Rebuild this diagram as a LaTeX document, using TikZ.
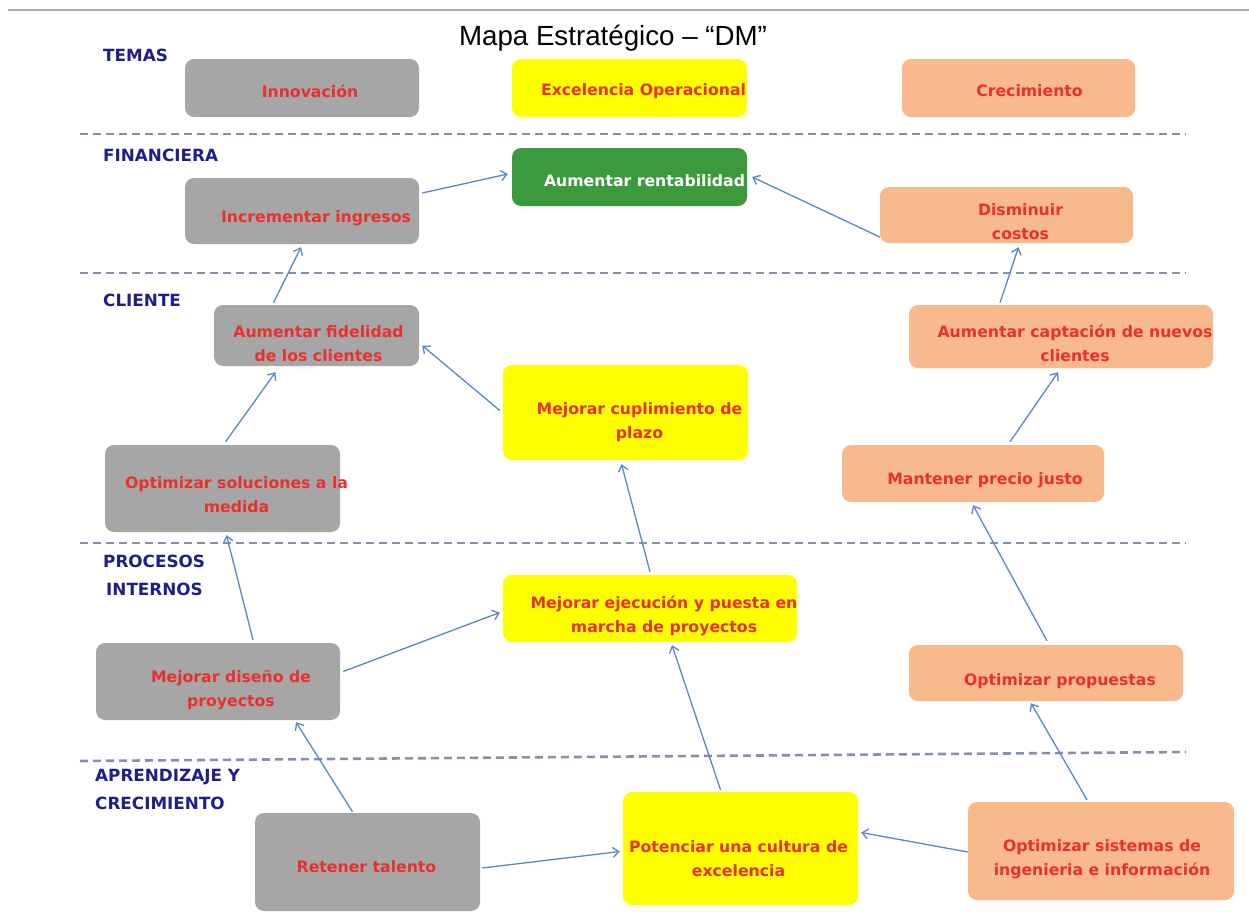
\documentclass[tikz,border=0pt]{standalone}
\usepackage{fontspec}
\setmainfont{DejaVu Sans}
\newfontfamily\titlefont{Liberation Sans}
\usetikzlibrary{arrows.meta,calc}
\definecolor{boxgray}{HTML}{A6A6A6}
\definecolor{boxyellow}{HTML}{FFFF00}
\definecolor{boxsalmon}{HTML}{F8BA8C}
\definecolor{boxgreen}{HTML}{3C9A3C}
\definecolor{txtred}{HTML}{E8312E}
\definecolor{navy}{HTML}{1F1F8A}
\definecolor{arrowblue}{HTML}{5B87C5}
\definecolor{sepgray}{HTML}{8392AA}
\definecolor{topline}{HTML}{A4ACBC}
\begin{document}
\begin{tikzpicture}[x=1pt,y=-1pt,
  box/.style={rounded corners=9pt, inner sep=0pt},
  graybox/.style={box, fill=boxgray},
  yellowbox/.style={box, fill=boxyellow},
  salmonbox/.style={box, fill=boxsalmon},
  greenbox/.style={box, fill=boxgreen},
  tl/.style={font=\fontsize{15.7}{24}\selectfont\bfseries, text=txtred, align=center, inner sep=0pt},
  persp/.style={font=\fontsize{16.8}{28}\selectfont\bfseries, text=navy, align=left, anchor=north west, inner sep=0pt},
  link/.style={draw=arrowblue, line width=1.3pt, -{Straight Barb[length=6pt,width=10pt,line width=1.3pt]}},
  sep/.style={draw=sepgray, line width=2.6pt, dash pattern=on 8pt off 5pt}
]
\useasboundingbox (0,0) rectangle (1249,911);
\fill[white] (0,0) rectangle (1249,911);

% top line and title
\coordinate (tlA) at (8,10);
\coordinate (tlB) at (1249,10);
\draw[topline, line width=2pt] (tlA) -- (tlB);
\node[font=\titlefont\fontsize{27.7}{30}\selectfont, inner sep=0pt] (title) at (613,38) {Mapa Estratégico – “DM”};

% separators
\coordinate (s1a) at (80,134); \coordinate (s1b) at (1186,134);
\coordinate (s2a) at (80,273); \coordinate (s2b) at (1186,273);
\coordinate (s3a) at (80,543); \coordinate (s3b) at (1186,543);
\coordinate (s4a) at (80,761); \coordinate (s4b) at (1186,752);
\draw[sep] (s1a) -- (s1b);
\draw[sep] (s2a) -- (s2b);
\draw[sep] (s3a) -- (s3b);
\draw[sep] (s4a) -- (s4b);

% perspective labels
\node[persp] (pT) at (103,49) {TEMAS};
\node[persp] (pF) at (103,149) {FINANCIERA};
\node[persp] (pC) at (103,294) {CLIENTE};
\node[persp] (pP) at (103,555) {PROCESOS\\\hspace*{3pt}INTERNOS};
\node[persp] (pA) at (95,769) {APRENDIZAJE Y\\CRECIMIENTO};

% themes
\node[graybox, minimum width=234pt, minimum height=58pt, label={[tl, xshift=8pt, yshift=-3pt]center:Innovación}] (inno) at (302,88) {};
\node[yellowbox, minimum width=235pt, minimum height=58pt, label={[tl, xshift=14pt, yshift=-3pt]center:Excelencia Operacional}] (exc) at (629.5,88) {};
\node[salmonbox, minimum width=233pt, minimum height=58pt, label={[tl, xshift=11pt, yshift=-3pt]center:Crecimiento}] (crec) at (1018.5,88) {};

% financiera
\node[greenbox, minimum width=235pt, minimum height=58pt, label={[tl, text=white, xshift=15pt, yshift=-4pt]center:Aumentar rentabilidad}] (rent) at (629.5,177) {};
\node[graybox, minimum width=234pt, minimum height=66pt, label={[tl, xshift=14pt, yshift=-7pt]center:Incrementar ingresos}] (ingr) at (302,211) {};
\node[salmonbox, minimum width=253pt, minimum height=56pt, label={[tl, xshift=14pt, yshift=-7pt]center:Disminuir\\costos}] (dism) at (1006.5,215) {};

% cliente
\node[graybox, minimum width=205pt, minimum height=61pt, label={[tl, xshift=2pt, yshift=-8pt]center:Aumentar fidelidad\\de los clientes}] (fid) at (316.5,335.5) {};
\node[salmonbox, minimum width=304pt, minimum height=63pt, label={[tl, xshift=14pt, yshift=-7pt]center:Aumentar captación de nuevos\\clientes}] (capt) at (1061,336.5) {};
\node[yellowbox, minimum width=245pt, minimum height=95pt, label={[tl, xshift=14pt, yshift=-10pt]center:Mejorar cuplimiento de\\plazo}] (plazo) at (625.5,412.5) {};
\node[graybox, minimum width=235pt, minimum height=87pt, label={[tl, xshift=14pt, yshift=-6pt]center:Optimizar soluciones a la\\medida}] (sol) at (222.5,488.5) {};
\node[salmonbox, minimum width=262pt, minimum height=57pt, label={[tl, xshift=12pt, yshift=-7pt]center:Mantener precio justo}] (precio) at (973,473.5) {};

% procesos internos
\node[yellowbox, minimum width=294pt, minimum height=67pt, label={[tl, xshift=14pt, yshift=-7pt]center:Mejorar ejecución y puesta en\\marcha de proyectos}] (ejec) at (650,608.5) {};
\node[graybox, minimum width=244pt, minimum height=77pt, label={[tl, xshift=13pt, yshift=-9pt]center:Mejorar diseño de\\proyectos}] (dis) at (218,681.5) {};
\node[salmonbox, minimum width=274pt, minimum height=56pt, label={[tl, xshift=14pt, yshift=-8pt]center:Optimizar propuestas}] (prop) at (1046,673) {};

% aprendizaje
\node[graybox, minimum width=225pt, minimum height=98pt, label={[tl, xshift=-1pt, yshift=-5pt]center:Retener talento}] (ret) at (367.5,862) {};
\node[yellowbox, minimum width=235pt, minimum height=113pt, label={[tl, xshift=-2pt, yshift=-10pt]center:Potenciar una cultura de\\excelencia}] (pot) at (740.5,848.5) {};
\node[salmonbox, minimum width=266pt, minimum height=98pt, label={[tl, xshift=1pt, yshift=-8pt]center:Optimizar sistemas de\\ingenieria e información}] (sis) at (1101,851) {};

% connectors
\draw[link] ([xshift=3pt,yshift=18pt]ingr.east) -- ([xshift=-4pt,yshift=3pt]rent.west);
\draw[link] ([yshift=-22pt]dism.west) -- ([xshift=5pt]rent.east);
\draw[link] ([xshift=-43pt,yshift=2pt]fid.north) -- ([xshift=-1pt,yshift=-3pt]ingr.south);
\draw[link] ([xshift=-3pt,yshift=2pt]plazo.west) -- ([xshift=3pt,yshift=-10pt]fid.east);
\draw[link] ([xshift=3pt,yshift=3pt]sol.north) -- ([xshift=-41pt,yshift=-6pt]fid.south);
\draw[link] ([xshift=-61pt,yshift=2pt]capt.north) -- ([xshift=12pt,yshift=-4pt]dism.south);
\draw[link] ([xshift=37pt,yshift=3pt]precio.north) -- ([xshift=-3pt,yshift=-4pt]capt.south);
\draw[link] ([yshift=3pt]ejec.north) -- ([xshift=-4pt,yshift=-4pt]plazo.south);
\draw[link] ([xshift=35pt,yshift=3pt]dis.north) -- ([xshift=4pt,yshift=-3pt]sol.south);
\draw[link] ([xshift=3pt,yshift=10pt]dis.east) -- ([xshift=-3pt,yshift=-4pt]ejec.west);
\draw[link] ([xshift=1pt,yshift=4pt]prop.north) -- ([yshift=-3pt]precio.south);
\draw[link] ([xshift=-15pt,yshift=1pt]ret.north) -- ([xshift=78pt,yshift=-2pt]dis.south);
\draw[link] ([xshift=2pt,yshift=-6pt]ret.east) -- ([xshift=-3pt,yshift=-3pt]pot.west);
\draw[link] ([xshift=-20pt,yshift=2pt]pot.north) -- ([xshift=22pt,yshift=-3pt]ejec.south);
\draw[link] ([yshift=-1pt]sis.west) -- ([xshift=3pt,yshift=16pt]pot.east);
\draw[link] ([xshift=-14pt,yshift=2pt]sis.north) -- ([xshift=-15pt,yshift=-2pt]prop.south);
\end{tikzpicture}
\end{document}
